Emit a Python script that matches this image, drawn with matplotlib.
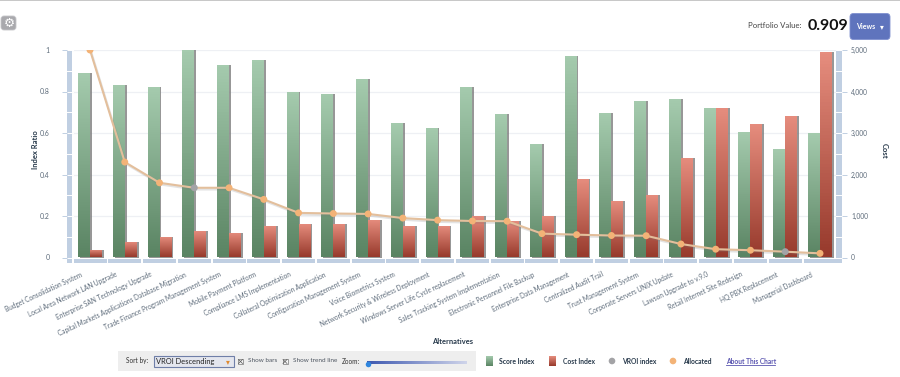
import numpy as np
import matplotlib
matplotlib.use("Agg")
import matplotlib.pyplot as plt
from matplotlib.colors import LinearSegmentedColormap
from matplotlib.patches import FancyBboxPatch, Rectangle, Circle
from matplotlib.transforms import ScaledTranslation

plt.rcParams['font.family'] = ['Lato', 'DejaVu Sans']

alternatives = ["Budget Consolidation System", "Local Area Network LAN Upgrade", "Enterprise SAN Technology Upgrade",
                "Capital Markets Applications Database Migration", "Trade Finance Program Management System",
                "Mobile Payment Platform", "Compliance LMS Implementation", "Collateral Optimization Application",
                "Configuration Management System", "Voice Biometrics System", "Network Security & Wireless Deployment",
                "Windows Server Life Cycle replacement", "Sales Tracking System Implementation",
                "Electronic Personnel File Backup", "Enterprise Data Management", "Centralized Audit Trail",
                "Trust Management System", "Corporate Servers UNIX Update", "Lawson Upgrade to v.9.0",
                "Retail Internet Site Redesign", "HQ PBX Replacement", "Managerial Dashboard"]
score_index = [.89, .83, .82, 1.0, .93, .95, .80, .79, .86, .65, .625, .82, .69, .545, .97, .695, .755, .765, .72, .605, .525, .60]
cost = [175, 375, 500, 650, 600, 750, 800, 800, 900, 750, 750, 1000, 875, 1000, 1900, 1350, 1500, 2400, 3600, 3225, 3400, 4950]
allocated = [5000, 2300, 1800, 1680, 1680, 1400, 1075, 1060, 1050, 950, 900, 880, 875, 575, 550, 530, 525, 325, 200, 175, 140, 100]
vroi_positions = [3, 20]
left_ticks = [0, .2, .4, .6, .8, 1]
left_tick_labels = ["0", "0.2", "0.4", "0.6", "0.8", "1"]
right_ticks = [0, 1000, 2000, 3000, 4000, 5000]
right_tick_labels = ["0", "1,000", "2,000", "3,000", "4,000", "5,000"]

W, H = 900, 377
fig = plt.figure(figsize=(9, 3.77), dpi=100, facecolor='white')
TXT = '#5d6b7a'
STRIP = '#c0cfe2'

# overlay in pixel coordinates for the surrounding interface
ov = fig.add_axes([0, 0, 1, 1], zorder=0)
ov.set_xlim(0, W); ov.set_ylim(H, 0); ov.axis('off')
ov.plot([0, W], [0.4, 0.4], color='#bdbdbd', lw=1.2)
ov.add_patch(FancyBboxPatch((1, 16), 15, 14, boxstyle='round,pad=0,rounding_size=3', fc='#a9a9ad', ec='#c4c4c8', lw=.6))
ov.text(9, 23, '\u2699', fontsize=9, color='white', ha='center', va='center', family='DejaVu Sans')

ov.text(801, 26, 'Portfolio Value:', fontsize=5.6, color='#444444', ha='right', va='center')
ov.text(808, 26, '0.909', fontsize=11.5, color='#111111', fontweight='bold', ha='left', va='center')
ov.add_patch(FancyBboxPatch((850, 13.5), 40, 26, boxstyle='round,pad=0,rounding_size=3.5', fc='#5f74bd', ec='#7f90cf', lw=.6))
ov.text(866, 26.5, 'Views', fontsize=5, color='white', fontweight='bold', ha='center', va='center')
ov.text(882, 26.5, '\u25be', fontsize=5.5, color='white', ha='center', va='center', family='DejaVu Sans')

ov.text(35, 150, 'Index Ratio', rotation=90, fontsize=5.5, fontweight='bold', color='#26384a', ha='center', va='center')
ov.text(884, 151, 'Cost', rotation=270, fontsize=5.5, fontweight='bold', color='#26384a', ha='center', va='center')
ov.text(452.5, 342, 'Alternatives', fontsize=5.4, fontweight='bold', color='#26384a', ha='center', va='center')

ov.add_patch(Rectangle((118, 351), 358, 20, fc='#eeeeee', ec='none'))
ov.text(126, 361, 'Sort by:', fontsize=4.7, color='#333333', va='center')
ov.add_patch(Rectangle((153.5, 356), 80, 11, fc='#e4e6ee', ec='#6f7fa8', lw=.8))
ov.text(156, 361.5, 'VROI Descending', fontsize=5.4, color='#222222', va='center')
ov.text(228, 361.5, '\u25be', fontsize=5.5, color='#e08a30', ha='center', va='center', family='DejaVu Sans')
for cx in (240.5, 285):
    ov.add_patch(Rectangle((cx - 2.5, 359), 5, 5, fc='#f5f5f5', ec='#777777', lw=.5))
    ov.plot([cx - 2, cx + 2], [359.5, 363.5], color='#555555', lw=.5)
    ov.plot([cx - 2, cx + 2], [363.5, 359.5], color='#555555', lw=.5)
ov.text(248, 361, 'Show bars', fontsize=4.6, color='#4d5560', va='center')
ov.text(293, 361, 'Show trend line', fontsize=4.6, color='#4d5560', va='center')
ov.text(342, 361, 'Zoom:', fontsize=4.7, color='#333333', va='center')
ov.imshow(np.linspace(0, 1, 100).reshape(1, -1), extent=(367, 467, 364.5, 362), aspect='auto',
          cmap=LinearSegmentedColormap.from_list('s', ['#3d58b0', '#cfd4ea']), zorder=1)
ov.scatter([368], [363.5], s=16, color='#2f86de', zorder=2, lw=0)
ov.set_xlim(0, W); ov.set_ylim(H, 0)

def grad(top, bottom):
    return LinearSegmentedColormap.from_list('g', [top, bottom])

GREEN = grad('#a5cbae', '#5a8463')
RED = grad('#e68d7e', '#973a2c')
g = np.linspace(0, 1, 64).reshape(-1, 1)

ov.imshow(g, extent=(486, 493, 366, 356), aspect='auto', cmap=GREEN, zorder=2)
ov.imshow(g, extent=(549, 556, 366, 356), aspect='auto', cmap=RED, zorder=2)
ov.set_xlim(0, W); ov.set_ylim(H, 0)
ov.add_patch(Circle((612, 361), 3.3, fc='#a3a3a6', ec='none'))
ov.add_patch(Circle((673, 361), 3.3, fc='#f3b377', ec='none'))
LEG = '#26384a'
ov.text(499, 361, 'Score Index', fontsize=4.9, fontweight='bold', color=LEG, va='center')
ov.text(563, 361, 'Cost Index', fontsize=4.9, fontweight='bold', color=LEG, va='center')
ov.text(622, 361, 'VROI index', fontsize=4.9, fontweight='bold', color=LEG, va='center')
ov.text(683, 361, 'Allocated', fontsize=4.9, fontweight='bold', color=LEG, va='center')
ov.text(726, 361, 'About This Chart', fontsize=4.8, fontweight='bold', color='#5a55b0', va='center')
ov.plot([726, 775], [364.5, 364.5], color='#5a55b0', lw=.6)

# main chart
px_l, px_r, px_t, px_b = 67, 842, 50, 262.5
y0 = 257.5
ax = fig.add_axes([px_l / W, 1 - px_b / H, (px_r - px_l) / W, (px_b - px_t) / H], zorder=2)
ax.patch.set_alpha(0)
step = 730 / 21
xlim = ((px_l - 90) / step, (px_r - 90) / step)
ymin = -(px_b - y0) / (y0 - px_t)
x = np.arange(len(alternatives))
w = 12 / step

ax2 = ax.twinx()
ax2.set_zorder(3)
ax2.patch.set_alpha(0)

def gradient_bars(a, xs, vals, cmap, shadow_dx):
    a.bar(xs + shadow_dx, vals, width=w, color='#7d7d7d', alpha=.8, zorder=2)
    bars = a.bar(xs, vals, width=w, color='none', zorder=3)
    for b in bars:
        im = a.imshow(g, extent=(b.get_x(), b.get_x() + b.get_width(), b.get_y(), b.get_y() + b.get_height()),
                      aspect='auto', cmap=cmap, zorder=3, origin='upper')
        im.set_clip_path(b)

for v in np.arange(0.2, 1.01, 0.2):
    ax.axhline(v, color='#eef0f4', lw=.9, zorder=1)

# axis strips
strip_h = (px_b - 258.5) / (y0 - px_t)
ax.bar(x, strip_h, bottom=ymin, width=33 / step, color=STRIP, zorder=1)
ax.bar([(px_l + 2.5 - 90) / step, (px_r - 3 - 90) / step], [1 - ymin] * 2, bottom=ymin, width=5.5 / step, color=STRIP, zorder=1)
for v in np.arange(0, 1.01, 0.1):
    ax.plot([xlim[0], (72.5 - 90) / step], [v, v], color='white', lw=.7, zorder=1.5)
    ax.plot([(836 - 90) / step, xlim[1]], [v, v], color='white', lw=.7, zorder=1.5)

gradient_bars(ax, x - w / 2, np.array(score_index), GREEN, 1.8 / step)
gradient_bars(ax2, x + w / 2, np.array(cost), RED, 1.8 / step)

ax2.plot(x + 0.03, np.array(allocated) - 40, color='#777777', alpha=.2, lw=1.6, zorder=4)
ax2.plot(x, allocated, color='#e3bf9c', lw=1.5, zorder=5, solid_joinstyle='round')
colors = ['#a3a3a6' if i in vroi_positions else '#f3b377' for i in range(len(x))]
ax2.scatter(x, allocated, s=25, c=colors, lw=0, zorder=6)

ax.set_xlim(*xlim); ax.set_ylim(ymin, 1)
ax2.set_xlim(*xlim); ax2.set_ylim(ymin * 5000, 5000)
for a in (ax, ax2):
    for s in a.spines.values():
        s.set_visible(False)

ax.set_yticks(left_ticks, left_tick_labels)
ax2.set_yticks(right_ticks, right_tick_labels)
ax.tick_params(axis='y', length=3.6, width=.7, color=STRIP, labelsize=5, labelcolor=TXT, pad=9)
ax2.tick_params(axis='y', length=3.6, width=.7, color=STRIP, labelsize=4.8, labelcolor=TXT, pad=3)
ax.set_xticks(x, alternatives)
ax.tick_params(axis='x', length=0, pad=0, labelsize=4.7, labelcolor=TXT)
off = ScaledTranslation(-8 / 100, -11.5 / 100, fig.dpi_scale_trans)
for lab in ax.get_xticklabels():
    lab.set_rotation(25)
    lab.set_ha('right')
    lab.set_va('center')
    lab.set_rotation_mode('anchor')
    lab.set_transform(lab.get_transform() + off)

fig.savefig('out.png', dpi=100)
